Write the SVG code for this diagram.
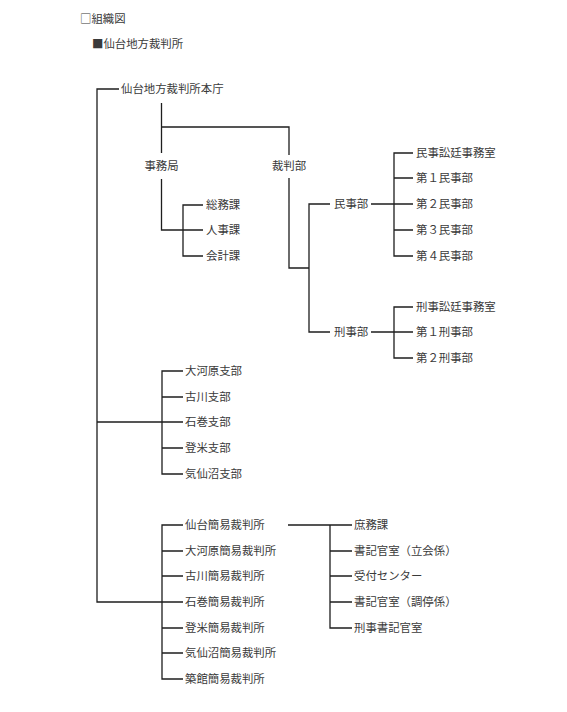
<svg xmlns="http://www.w3.org/2000/svg" width="567" height="712" viewBox="0 0 567 712">
<style>
text{font-family:"Noto Sans CJK JP","Noto Sans CJK SC",sans-serif;font-size:11.4px;fill:#3a3a3a}
.c{text-anchor:middle}
#connectors path{fill:none;stroke:#1e1e1e;stroke-width:1.3}
</style>
<rect width="567" height="712" fill="#ffffff"/>
<g id="title"><text x="80" y="22.5">□組織図</text></g>
<g id="subtitle"><text x="92" y="48">■仙台地方裁判所</text></g>
<g id="connectors">
<path d="M119,89 H97 V602 H162"/>
<path d="M161.5,103 V153 M161.5,127 H289 V155"/>
<path d="M161.5,179 V230 H203 M203,205 H183 V256 H203"/>
<path d="M289,178 V268 H309 M330,204 H309 V332 H330"/>
<path d="M371,204 H413 M413,153 H394 V256 H413 M394,178 H413 M394,230 H413"/>
<path d="M371,332 H413 M413,307 H394 V358 H413"/>
<path d="M97,422 H162 M183,371 H162 V474 H183 M162,397 H183 M162,422 H183 M162,448 H183"/>
<path d="M183,525 H162 V679 H183 M162,551 H183 M162,576 H183 M162,602 H183 M162,628 H183 M162,653 H183"/>
<path d="M288,525 H352 M330,525 V628 H352 M330,551 H352 M330,576 H352 M330,602 H352"/>
</g>
<g id="honcho"><text x="121" y="93">仙台地方裁判所本庁</text></g>
<g id="jimukyoku"><text class="c" x="161.5" y="170">事務局</text></g>
<g id="saibanbu"><text class="c" x="289" y="170">裁判部</text></g>
<g id="somuka"><text x="206" y="209">総務課</text></g>
<g id="jinjika"><text x="206" y="234">人事課</text></g>
<g id="kaikeika"><text x="206" y="260">会計課</text></g>
<g id="minjibu"><text x="334" y="208">民事部</text></g>
<g id="keijibu"><text x="334" y="336">刑事部</text></g>
<g id="minji-shotei"><text x="416" y="157">民事訟廷事務室</text></g>
<g id="minji1"><text x="416" y="182">第１民事部</text></g>
<g id="minji2"><text x="416" y="208">第２民事部</text></g>
<g id="minji3"><text x="416" y="234">第３民事部</text></g>
<g id="minji4"><text x="416" y="260">第４民事部</text></g>
<g id="keiji-shotei"><text x="416" y="311">刑事訟廷事務室</text></g>
<g id="keiji1"><text x="416" y="336">第１刑事部</text></g>
<g id="keiji2"><text x="416" y="362">第２刑事部</text></g>
<g id="ogawara-shibu"><text x="185" y="375">大河原支部</text></g>
<g id="furukawa-shibu"><text x="185" y="401">古川支部</text></g>
<g id="ishinomaki-shibu"><text x="185" y="426">石巻支部</text></g>
<g id="tome-shibu"><text x="185" y="452">登米支部</text></g>
<g id="kesennuma-shibu"><text x="185" y="478">気仙沼支部</text></g>
<g id="sendai-kan"><text x="185" y="529">仙台簡易裁判所</text></g>
<g id="ogawara-kan"><text x="185" y="555">大河原簡易裁判所</text></g>
<g id="furukawa-kan"><text x="185" y="580">古川簡易裁判所</text></g>
<g id="ishinomaki-kan"><text x="185" y="606">石巻簡易裁判所</text></g>
<g id="tome-kan"><text x="185" y="632">登米簡易裁判所</text></g>
<g id="kesennuma-kan"><text x="185" y="657">気仙沼簡易裁判所</text></g>
<g id="tsukidate-kan"><text x="185" y="683">築館簡易裁判所</text></g>
<g id="shomuka"><text x="354" y="529">庶務課</text></g>
<g id="shokikan-tachiai"><text x="354" y="555">書記官室（立会係）</text></g>
<g id="uketsuke"><text x="354" y="580">受付センター</text></g>
<g id="shokikan-chotei"><text x="354" y="606">書記官室（調停係）</text></g>
<g id="keiji-shokikan"><text x="354" y="632">刑事書記官室</text></g>
</svg>
